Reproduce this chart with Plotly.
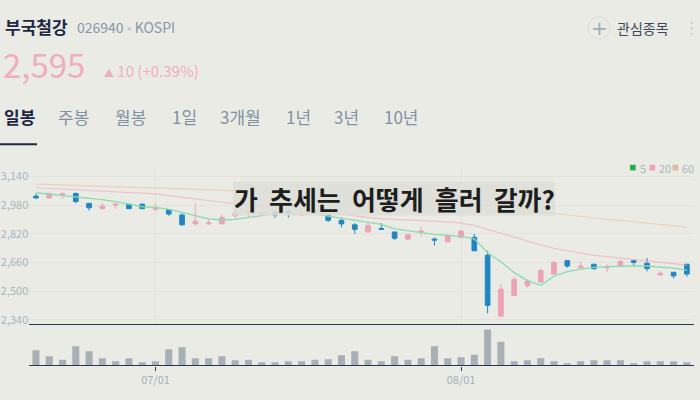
import plotly.graph_objects as go

# ---------------- data ----------------
dates = ["2019-06-18", "2019-06-19", "2019-06-20", "2019-06-21", "2019-06-24", "2019-06-25",
         "2019-06-26", "2019-06-27", "2019-06-28",
         "2019-07-01", "2019-07-02", "2019-07-03", "2019-07-04", "2019-07-05", "2019-07-08",
         "2019-07-09", "2019-07-10", "2019-07-11", "2019-07-12", "2019-07-15", "2019-07-16",
         "2019-07-17", "2019-07-18", "2019-07-19", "2019-07-22", "2019-07-23", "2019-07-24",
         "2019-07-25", "2019-07-26", "2019-07-29", "2019-07-30", "2019-07-31",
         "2019-08-01", "2019-08-02", "2019-08-05", "2019-08-06", "2019-08-07", "2019-08-08",
         "2019-08-09", "2019-08-12", "2019-08-13", "2019-08-14", "2019-08-16", "2019-08-19",
         "2019-08-20", "2019-08-21", "2019-08-22", "2019-08-23", "2019-08-26", "2019-08-27"]

opens = [3030, 3020, 3040, 3045, 2990, 2960, 2980, 2985, 2985, 2955,
         2955, 2925, 2875, 2875, 2875, 2920, 2940, 2925, 2940, 2945,
         2925, 2935, 2925, 2895, 2870, 2830, 2850, 2830, 2790, 2830,
         2790, 2775, 2800, 2800, 2700, 2360, 2475, 2530, 2550, 2595,
         2670, 2630, 2650, 2630, 2640, 2670, 2655, 2590, 2605, 2650]
highs = [3045, 3050, 3050, 3050, 2990, 2990, 2990, 2985, 2990, 2990,
         2955, 2935, 2990, 2900, 2930, 2955, 2950, 2950, 2950, 2950,
         2960, 2960, 2925, 2910, 2880, 2885, 2880, 2830, 2815, 2860,
         2800, 2820, 2840, 2820, 2725, 2540, 2580, 2565, 2625, 2670,
         2670, 2665, 2650, 2650, 2675, 2670, 2685, 2610, 2605, 2650]
lows = [3015, 3015, 3015, 2990, 2950, 2955, 2960, 2960, 2960, 2950,
        2920, 2865, 2865, 2870, 2875, 2905, 2910, 2920, 2910, 2910,
        2920, 2930, 2885, 2855, 2820, 2825, 2845, 2785, 2785, 2805,
        2755, 2775, 2795, 2725, 2375, 2360, 2475, 2520, 2550, 2595,
        2630, 2630, 2620, 2605, 2640, 2640, 2610, 2585, 2570, 2580]
closes = [3020, 3045, 3045, 3000, 2965, 2975, 2985, 2960, 2960, 2960,
          2930, 2870, 2890, 2880, 2910, 2935, 2945, 2940, 2925, 2940,
          2935, 2955, 2895, 2875, 2845, 2865, 2845, 2795, 2815, 2835,
          2785, 2810, 2835, 2725, 2420, 2510, 2565, 2555, 2615, 2660,
          2640, 2640, 2625, 2635, 2665, 2660, 2625, 2600, 2585, 2595]

ma5 = [3049, 3042, 3033, 3028, 3019, 3011, 3000, 2986, 2971, 2967,
       2956, 2939, 2921, 2903, 2897, 2900, 2912, 2922, 2931, 2934,
       2934, 2931, 2918, 2906, 2894, 2886, 2872, 2847, 2836, 2828,
       2817, 2811, 2806, 2792, 2714, 2664, 2603, 2558, 2532, 2583,
       2608, 2622, 2632, 2636, 2640, 2640, 2640, 2636, 2628, 2615]
ma20 = [3077, 3073, 3070, 3067, 3063, 3059, 3056, 3052, 3048, 3043,
        3033, 3023, 3012, 3004, 2996, 2989, 2982, 2975, 2968, 2962,
        2954, 2946, 2937, 2928, 2919, 2911, 2903, 2900, 2897, 2894,
        2892, 2886, 2879, 2867, 2844, 2822, 2800, 2778, 2758, 2739,
        2725, 2711, 2699, 2692, 2683, 2675, 2668, 2660, 2653, 2644]
ma60 = [3097, 3095, 3093, 3091, 3088, 3086, 3083, 3081, 3078, 3075,
        3073, 3071, 3068, 3066, 3064, 3061, 3058, 3056, 3053, 3050,
        3047, 3044, 3041, 3037, 3034, 3031, 3026, 3022, 3017, 3013,
        3007, 3001, 2995, 2986, 2978, 2970, 2962, 2953, 2944, 2935,
        2926, 2917, 2908, 2901, 2894, 2887, 2880, 2872, 2865, 2857]

volumes = [122000, 74000, 46000, 154000, 114000, 58000, 34000, 58000, 26000, 34000,
           130000, 146000, 58000, 58000, 74000, 42000, 46000, 26000, 26000, 34000,
           34000, 46000, 50000, 82000, 114000, 46000, 34000, 74000, 46000, 58000,
           154000, 58000, 66000, 86000, 290000, 190000, 34000, 42000, 58000, 34000,
           18000, 34000, 42000, 42000, 42000, 18000, 34000, 34000, 34000, 26000]

price_ticks = [2340, 2500, 2660, 2820, 2980, 3140]
date_tick_vals = ["2019-07-01", "2019-08-01"]
date_tick_text = ["07/01", "08/01"]

ma_labels = ["5", "20", "60"]
tabs = ["일봉", "주봉", "월봉", "1일", "3개월", "1년", "3년", "10년"]
title_words = ["가", "추세는", "어떻게", "흘러", "갈까?"]

# ---------------- style ----------------
BG = "#ebebe6"
UP = "#eba3b6"
DOWN = "#1f86c6"
NAVY = "#26365a"
GRID = "#e2e2dc"
FONT = "Noto Sans CJK KR"
W, H = 700, 400


def px(x):
    return x / W


def py(y):
    return 1 - y / H


fig = go.Figure()

fig.add_trace(go.Scatter(x=dates, y=ma60, mode="lines", line=dict(color="rgba(232,188,160,0.55)", width=1.2),
                         hoverinfo="skip", showlegend=False, xaxis="x", yaxis="y"))
fig.add_trace(go.Scatter(x=dates, y=ma20, mode="lines", line=dict(color="rgba(238,165,185,0.6)", width=1.2),
                         hoverinfo="skip", showlegend=False, xaxis="x", yaxis="y"))
fig.add_trace(go.Scatter(x=dates, y=ma5, mode="lines", line=dict(color="#8adcac", width=1.3),
                         hoverinfo="skip", showlegend=False, xaxis="x", yaxis="y"))

fig.add_trace(go.Candlestick(
    x=dates, open=opens, high=highs, low=lows, close=closes,
    increasing=dict(line=dict(color=UP, width=1), fillcolor=UP),
    decreasing=dict(line=dict(color=DOWN, width=1), fillcolor=DOWN),
    whiskerwidth=0, showlegend=False, xaxis="x", yaxis="y", hoverinfo="skip"))

fig.add_trace(go.Bar(x=dates, y=volumes, marker=dict(color="#a8afb5", line=dict(width=0)),
                     showlegend=False, xaxis="x2", yaxis="y2", hoverinfo="skip"))

xdom = [px(29.3), px(693.5)]
fig.update_layout(
    width=W, height=H, autosize=False,
    margin=dict(l=0, r=0, t=0, b=0),
    paper_bgcolor=BG, plot_bgcolor=BG,
    font=dict(family=FONT),
    boxgap=0.5, bargap=0.47,
    xaxis=dict(domain=xdom, anchor="y", type="category", range=[-0.5, len(dates) - 0.5],
               showticklabels=False, ticks="", tickvals=date_tick_vals,
               showgrid=True, gridcolor=GRID, gridwidth=1,
               showline=True, linecolor=NAVY, linewidth=1.3,
               rangeslider=dict(visible=False), zeroline=False, fixedrange=True),
    xaxis2=dict(domain=xdom, anchor="y2", type="category", matches="x",
                tickvals=date_tick_vals, ticktext=date_tick_text,
                ticks="outside", ticklen=4, tickcolor=NAVY, tickwidth=1.3,
                tickfont=dict(color="#9fb0bb", size=11, family=FONT),
                showgrid=False, showline=True, linecolor=NAVY, linewidth=1.3,
                rangeslider=dict(visible=False), zeroline=False),
    yaxis=dict(domain=[py(326), py(168)], range=[2314, 3192],
               tickvals=price_ticks, tickformat=",d", ticks="",
               tickfont=dict(color="#a6b6c0", size=11, family=FONT),
               showgrid=True, gridcolor=GRID, gridwidth=1,
               zeroline=False, showline=False),
    yaxis2=dict(domain=[py(367.3), py(326)], range=[0, 330400],
                showticklabels=False, showgrid=False, zeroline=False, ticks=""),
)

shapes = []
annotations = []

# header
annotations.append(dict(x=px(3), y=py(27), xref="paper", yref="paper", xanchor="left", yanchor="middle",
                        text="<b>부국철강</b>", showarrow=False,
                        font=dict(size=17, color="#1c2742", family=FONT)))
annotations.append(dict(x=px(75), y=py(27.5), xref="paper", yref="paper", xanchor="left", yanchor="middle",
                        text="026940 <span style='color:#c3ccd3'>•</span> KOSPI", showarrow=False,
                        font=dict(size=14, color="#8797a6", family=FONT)))
annotations.append(dict(x=px(1), y=py(64), xref="paper", yref="paper", xanchor="left", yanchor="middle",
                        text="2,595", showarrow=False,
                        font=dict(size=33, color="#efadc0", family=FONT)))
annotations.append(dict(x=px(102), y=py(71), xref="paper", yref="paper", xanchor="left", yanchor="middle",
                        text="<span style='font-size:10px'>▲</span> 10 (+0.39%)", showarrow=False,
                        font=dict(size=15, color="#efadc0", family=FONT)))

# tabs
tab_x = [2, 56, 113, 170, 218, 284, 332, 382]
for i, (t, tx) in enumerate(zip(tabs, tab_x)):
    annotations.append(dict(x=px(tx), y=py(117), xref="paper", yref="paper", xanchor="left", yanchor="middle",
                            text=("<b>%s</b>" % t) if i == 0 else t, showarrow=False,
                            font=dict(size=17, color="#1c2742" if i == 0 else "#7f92a3", family=FONT)))
shapes.append(dict(type="line", xref="paper", yref="paper", x0=px(0), x1=px(37), y0=py(145), y1=py(145),
                   line=dict(color="#1c2742", width=2)))

# watchlist button
shapes.append(dict(type="circle", xref="paper", yref="paper", x0=px(588), x1=px(610), y0=py(39), y1=py(17),
                   line=dict(color="#d3dedd", width=1)))
annotations.append(dict(x=px(599), y=py(28), xref="paper", yref="paper", xanchor="center", yanchor="middle",
                        text="+", showarrow=False, font=dict(size=20, color="#9fabb8", family="DejaVu Sans")))
annotations.append(dict(x=px(615), y=py(28), xref="paper", yref="paper", xanchor="left", yanchor="middle",
                        text="관심종목", showarrow=False, font=dict(size=14, color="#3d4656", family=FONT)))
for dy in (23, 28.5, 34):
    shapes.append(dict(type="circle", xref="paper", yref="paper", x0=px(690.5), x1=px(693), y0=py(dy + 1.2),
                       y1=py(dy - 1.2), fillcolor="#c3d3da", line=dict(width=0)))

# MA legend
leg_colors = ["#1fb257", "#eea3b8", "#e3bb9a"]
leg_sq = [630, 649.5, 672.5]
leg_tx = [637.5, 657, 680]
for c, sx, tx, lab in zip(leg_colors, leg_sq, leg_tx, ma_labels):
    shapes.append(dict(type="rect", xref="paper", yref="paper", x0=px(sx), x1=px(sx + 5.7),
                       y0=py(171.3), y1=py(165.6), fillcolor=c, line=dict(width=0)))
    annotations.append(dict(x=px(tx), y=py(168.7), xref="paper", yref="paper", xanchor="left", yanchor="middle",
                            text=lab, showarrow=False, font=dict(size=11, color="#a8b6c0", family=FONT)))

# overlay title box
shapes.append(dict(type="rect", xref="paper", yref="paper", x0=px(233), x1=px(555), y0=py(216.7), y1=py(182.5),
                   fillcolor="rgba(222,222,216,0.85)", line=dict(width=0), layer="above"))
annotations.append(dict(x=px(394), y=py(199.5), xref="paper", yref="paper", xanchor="center", yanchor="middle",
                        text="<b>" + " \u2009".join(title_words) + "</b>", showarrow=False,
                        font=dict(size=26, color="#1e1e1e", family=FONT)))

fig.update_layout(shapes=shapes, annotations=annotations)

fig.write_html("out.html", config={"displayModeBar": False},
               post_script="document.body.style.margin='0';document.body.style.background='%s';" % BG)
